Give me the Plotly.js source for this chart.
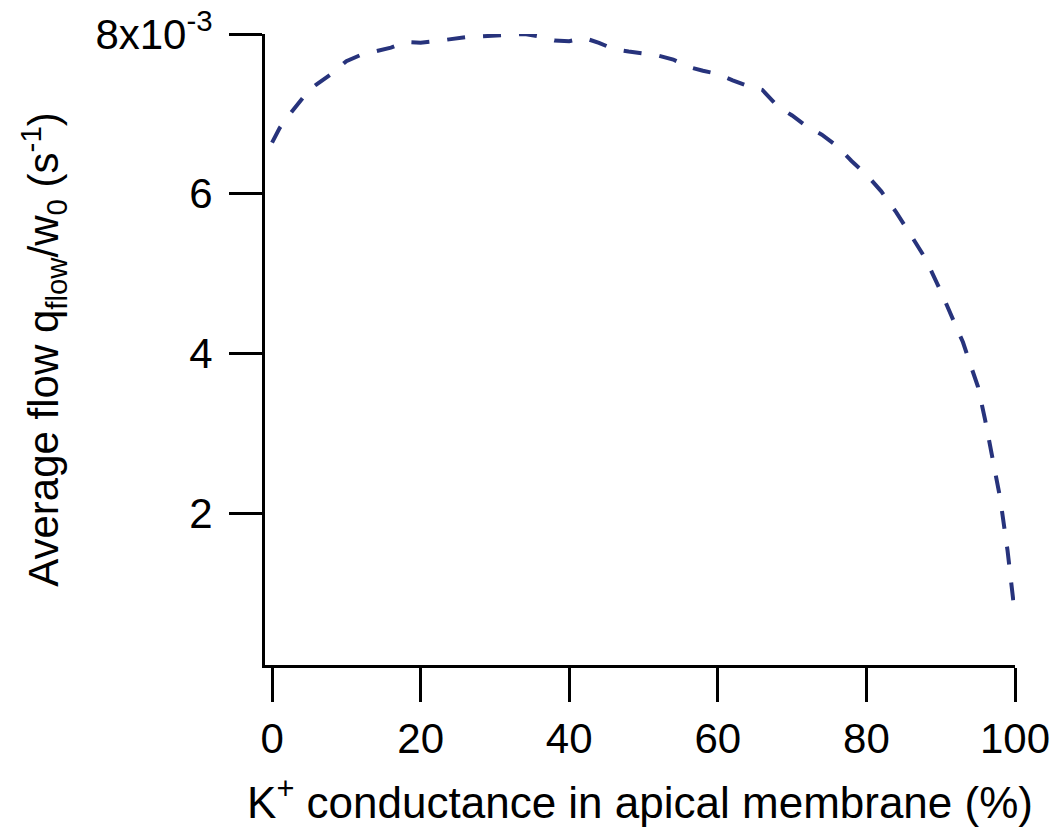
<!DOCTYPE html>
<html>
<head>
<meta charset="utf-8">
<script src="https://cdn.plot.ly/plotly-3.0.1.min.js"></script>
<style>html,body{margin:0;padding:0;background:#fff;}#chart{width:1050px;height:830px;}</style>
</head>
<body>
<div id="chart"></div>
<script>
// K+ conductance in apical membrane (%)
const conductance = [0, 1, 2, 3, 4, 5, 6, 7, 8, 9, 10, 12, 14, 16, 18, 20, 22, 24, 26, 28, 30, 32, 34, 36, 38, 40, 42, 44, 46, 48, 50, 52, 54, 56, 58, 60, 62, 64, 66, 68, 70, 72, 74, 76, 78, 80, 82, 84, 86, 88, 90, 91, 92, 93, 94, 95, 96, 97, 98, 99, 100];
// Average flow q_flow/w_0, in units of 1e-3 s^-1
const avgFlow = [6.64, 6.82, 6.95, 7.07, 7.18, 7.30, 7.37, 7.43, 7.50, 7.58, 7.66, 7.74, 7.79, 7.83, 7.90, 7.89, 7.91, 7.94, 7.96, 7.97, 7.98, 7.99, 8.00, 7.97, 7.92, 7.91, 7.95, 7.89, 7.81, 7.78, 7.75, 7.73, 7.68, 7.59, 7.54, 7.50, 7.42, 7.35, 7.30, 7.10, 6.98, 6.84, 6.74, 6.60, 6.41, 6.24, 6.03, 5.77, 5.48, 5.18, 4.78, 4.57, 4.38, 4.14, 3.86, 3.59, 3.16, 2.70, 2.19, 1.53, 0.72];
const xTickVals = [0, 20, 40, 60, 80, 100];
const xTickText = ["0", "20", "40", "60", "80", "100"];
const yTickVals = [2, 4, 6, 8];
const yTickText = ["2", "4", "6", "8x10<sup>-3</sup>"];

const family = "Liberation Sans, Arial, sans-serif";
const tickFont = {family: family, size: 42, color: "#000"};
const xTitleFont = {family: family, size: 44, color: "#000"};
const yTitleFont = {family: family, size: 42, color: "#000"};

Plotly.newPlot("chart", [{
  x: conductance,
  y: avgFlow,
  type: "scatter",
  mode: "lines",
  line: {color: "#27337c", width: 4, dash: "18px,18px", shape: "linear"},
  hoverinfo: "skip"
}], {
  width: 1050,
  height: 830,
  margin: {l: 265, r: 35, t: 34, b: 165},
  paper_bgcolor: "#fff",
  plot_bgcolor: "#fff",
  showlegend: false,
  font: tickFont,
  xaxis: {
    range: [-0.95, 100],
    tickvals: xTickVals,
    ticktext: xTickText,
    ticks: "outside",
    ticklen: 34,
    tickwidth: 3,
    tickcolor: "#000",
    showline: true,
    linecolor: "#000",
    linewidth: 3,
    showgrid: false,
    zeroline: false,
    ticklabelstandoff: 1,
    ticklabeloverflow: "allow",
    tickfont: tickFont,
    title: {text: "K<sup>+</sup> conductance in apical membrane (%)", font: xTitleFont, standoff: 26}
  },
  yaxis: {
    range: [0.1, 8],
    tickvals: yTickVals,
    ticktext: yTickText,
    ticks: "outside",
    ticklen: 33,
    tickwidth: 3,
    tickcolor: "#000",
    showline: true,
    linecolor: "#000",
    linewidth: 3,
    showgrid: false,
    zeroline: false,
    ticklabelstandoff: 8,
    ticklabeloverflow: "allow",
    tickfont: tickFont,
    title: {text: "Average flow q<sub>flow</sub>/w<sub>0</sub> (s<sup>-1</sup>)", font: yTitleFont, standoff: 24}
  }
}, {displayModeBar: false, staticPlot: true});
</script>
</body>
</html>
